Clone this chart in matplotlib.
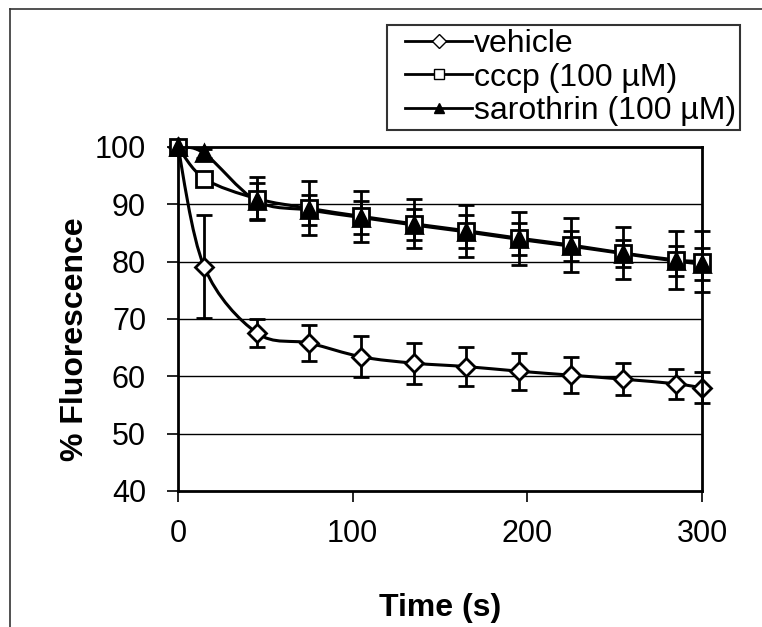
import numpy as np
import matplotlib.pyplot as plt
from matplotlib.path import Path
from matplotlib.patches import PathPatch
from matplotlib.lines import Line2D
from matplotlib.legend_handler import HandlerLine2D

plt.rcParams['font.family'] = ['Liberation Sans', 'DejaVu Sans']

# -- data
time = [0, 15, 45, 75, 105, 135, 165, 195, 225, 255, 285, 300]
vehicle = [100, 79.1, 67.6, 65.8, 63.4, 62.3, 61.7, 60.9, 60.2, 59.5, 58.7, 58.0]
vehicle_err = [0, 9.0, 2.4, 3.1, 3.6, 3.6, 3.4, 3.2, 3.1, 2.8, 2.6, 2.7]
cccp = [100, 94.5, 91.0, 89.3, 87.9, 86.6, 85.4, 84.1, 82.9, 81.5, 80.3, 80.0]
cccp_err = [0, 1.2, 3.7, 4.7, 4.4, 4.3, 4.5, 4.6, 4.7, 4.6, 5.1, 5.3]
sarothrin = [100, 98.9, 90.6, 89.0, 87.7, 86.4, 85.2, 83.9, 82.7, 81.4, 80.1, 79.6]
sarothrin_err = [0, 0.8, 3.2, 2.6, 2.8, 2.7, 2.9, 2.8, 2.6, 2.4, 2.6, 2.8]

labels = ['vehicle', 'cccp (100 µM)', 'sarothrin (100 µM)']
x_ticks = [0, 100, 200, 300]
y_ticks = [40, 50, 60, 70, 80, 90, 100]

FS = 22


def smooth_path(x, y):
    # Excel-like smoothed line: cubic Bezier through every point
    pts = np.column_stack([x, y]).astype(float)
    n = len(pts)
    verts = [pts[0]]
    codes = [Path.MOVETO]
    for i in range(n - 1):
        p0 = pts[max(i - 1, 0)]
        p1 = pts[i]
        p2 = pts[i + 1]
        p3 = pts[min(i + 2, n - 1)]
        verts += [p1 + (p2 - p0) / 6, p2 - (p3 - p1) / 6, p2]
        codes += [Path.CURVE4] * 3
    return Path(verts, codes)


fig = plt.figure(figsize=[7.62, 6.27], dpi=100)
ax = fig.add_axes([178 / 762, 1 - 491 / 627, (702 - 178) / 762, (491 - 147) / 627])

#-- grid lines
for yv in y_ticks[1:-1]:
    ax.axhline(yv, color='k', lw=1.0, zorder=1)

series = [
    (vehicle, vehicle_err, 'D', 'white', 9.5),
    (cccp, cccp_err, 's', 'white', 11),
    (sarothrin, sarothrin_err, '^', 'black', 11),
]

handles = []
for (vals, errs, mk, fc, ms), lab in zip(series, labels):
    ax.add_patch(PathPatch(smooth_path(time, vals), fc='none', ec='k',
                           lw=2.2, zorder=3))
    ax.errorbar(time, vals, yerr=errs, fmt='none', ecolor='k',
                elinewidth=2, capsize=6, capthick=2, zorder=4, clip_on=False)
    ax.plot(time, vals, ls='none', marker=mk, ms=ms, mfc=fc, mec='k',
            mew=2, zorder=5, clip_on=False)
    handles.append(Line2D([], [], color='k', lw=2, marker=mk, ms=ms * 0.7,
                          mfc=fc, mec='k', mew=1.0, label=lab))

ax.set_xlim(0, 300)
ax.set_ylim(40, 100)
ax.set_xticks(x_ticks)
ax.set_yticks(y_ticks)
ax.tick_params(direction='out', length=8, width=1.2, labelsize=FS)
ax.tick_params(axis='y', pad=15)
ax.tick_params(axis='x', pad=12)
for spine in ax.spines.values():
    spine.set_linewidth(2)
    spine.set_zorder(6)

ax.set_xlabel('Time (s)', fontsize=FS + 1, fontweight='bold', labelpad=32)
ax.set_ylabel('% Fluorescence', fontsize=FS + 1, fontweight='bold')
ax.yaxis.set_label_coords(-0.168, 0.44)

leg = fig.legend(handles=handles, loc='upper right',
                 bbox_to_anchor=(740 / 762, 1 - 25 / 627), fontsize=FS + 1,
                 frameon=True, fancybox=False, edgecolor='k',
                 handlelength=2.55, handletextpad=0.05, borderpad=0.12,
                 borderaxespad=0, labelspacing=0.12,
                 handler_map={Line2D: HandlerLine2D(xpad=0.44)})
leg.get_frame().set_linewidth(1.5)

#-- outer chart border (left and top edges visible)
fig.add_artist(Line2D([10 / 762, 10 / 762], [0, 1 - 9 / 627], color='#333333',
                      lw=1.2, transform=fig.transFigure))
fig.add_artist(Line2D([10 / 762, 1], [1 - 9 / 627, 1 - 9 / 627], color='#333333',
                      lw=1.2, transform=fig.transFigure))

plt.savefig('out.png', dpi=100)
